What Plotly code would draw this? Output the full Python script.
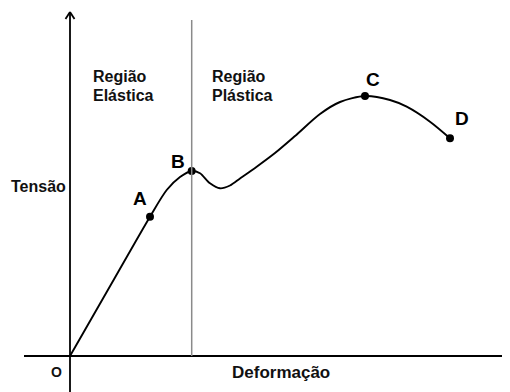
import plotly.graph_objects as go

# Strain (Deformação) and stress (Tensão) values along the curve, arbitrary units
strain = [0, 40, 80, 96.7, 110, 121.7, 130, 140, 150, 160, 170, 186.7, 205, 225, 250, 270, 295, 320, 336.7, 360, 380]
stress = [0, 69.7, 139.3, 166, 179, 185, 182.7, 172.7, 167.7, 170.5, 177.5, 189.3, 203, 220, 242, 254, 260, 256, 249.3, 234.3, 217.7]

# Marked points
pt_names = ["A", "B", "C", "D"]
pt_strain = [80, 121.7, 295, 380]
pt_stress = [139.3, 185, 260, 217.7]

# Elastic limit (boundary between regions)
limit_strain = 121.7

FONT = "Liberation Sans, Arial, sans-serif"

fig = go.Figure()
fig.add_trace(go.Scatter(x=strain, y=stress, mode="lines",
                         line=dict(color="black", width=1.9, shape="spline", smoothing=0.8),
                         hoverinfo="skip", showlegend=False))
fig.add_trace(go.Scatter(x=pt_strain, y=pt_stress, mode="markers",
                         marker=dict(color="black", size=8),
                         hoverinfo="skip", showlegend=False))

# label offsets (pixels) for letters
offs = {"A": (-10, 18), "B": (-14, 10), "C": (8, 17), "D": (12, 20)}
for n, x, y in zip(pt_names, pt_strain, pt_stress):
    dx, dy = offs[n]
    fig.add_annotation(x=x, y=y, text=f"<b>{n}</b>", showarrow=False,
                       xshift=dx, yshift=dy, font=dict(family=FONT, size=19, color="black"))

shapes = [
    dict(type="line", x0=-46, x1=460, y0=0, y1=0, line=dict(color="black", width=1.8)),
    dict(type="line", x0=0, x1=0, y0=-44, y1=344, line=dict(color="black", width=1.8)),
    dict(type="line", x0=-4.5, x1=0, y0=337, y1=344, line=dict(color="black", width=1.8)),
    dict(type="line", x0=4.5, x1=0, y0=337, y1=344, line=dict(color="black", width=1.8)),
    dict(type="line", x0=limit_strain, x1=limit_strain, y0=0, y1=336, line=dict(color="#8a8a8a", width=1.5)),
]
fig.update_layout(shapes=shapes)

txt = dict(family=FONT, size=16, color="#111")
for xx, lines in [(20.5, ["Região", "Elástica"]), (140, ["Região", "Plástica"])]:
    fig.add_annotation(x=xx, y=290, text=f"<b>{lines[0]}</b>", showarrow=False,
                       xanchor="left", yanchor="top", font=txt)
    fig.add_annotation(x=xx, y=271.5, text=f"<b>{lines[1]}</b>", showarrow=False,
                       xanchor="left", yanchor="top", font=txt)
fig.add_annotation(x=-61, y=170, text="<b>Tensão</b>", showarrow=False,
                   xanchor="left", yanchor="middle", font=txt)
fig.add_annotation(x=-13.5, y=-16, text="<b>O</b>", showarrow=False,
                   xanchor="center", yanchor="middle", font=dict(family=FONT, size=14, color="#111"))
fig.add_annotation(x=210.5, y=-16, text="<b>Deformação</b>", showarrow=False,
                   xanchor="center", yanchor="middle", font=dict(family=FONT, size=17, color="#111"))

# The page body has an 8px margin, so the ranges are offset to put the origin at (70, 356) on screen.
fig.update_layout(
    width=510, height=392,
    margin=dict(l=0, r=0, t=0, b=0),
    paper_bgcolor="white", plot_bgcolor="white",
    xaxis=dict(range=[-62, 448], visible=False, fixedrange=True),
    yaxis=dict(range=[-44, 348], visible=False, fixedrange=True),
)
fig.write_html("out.html")
